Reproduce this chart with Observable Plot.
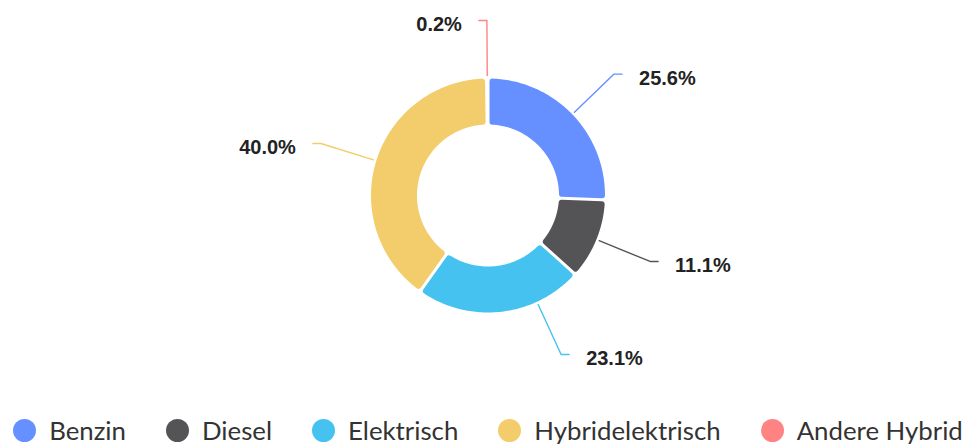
<!DOCTYPE html>
<html><head><meta charset="utf-8">
<script src="https://cdn.jsdelivr.net/npm/d3@7"></script>
<script src="https://cdn.jsdelivr.net/npm/@observablehq/plot@0.6"></script>
<style>
body{margin:0;background:#fff;}
#legend{display:flex;justify-content:center;align-items:center;height:40px;font-family:Lato,"Noto Sans",sans-serif;font-size:25.8px;color:#333;white-space:nowrap;}
.item{display:flex;align-items:center;margin:0 20px;}
.sw{width:23px;height:23px;border-radius:50%;margin-right:13px;flex:none;}
</style></head><body>
<div id="chart"></div><div id="legend"></div>
<script>
// ---- data ----
const categories = ["Benzin", "Diesel", "Elektrisch", "Hybridelektrisch", "Andere Hybrid"];
const shares = [25.6, 11.1, 23.1, 40.0, 0.2];
const labels = ["25.6%", "11.1%", "23.1%", "40.0%", "0.2%"];
const colors = ["#6690FF", "#545456", "#45C2EF", "#F3CD6B", "#FF8383"];

// ---- layout ----
const W = 976, H = 410, cx = 487.5, cy = 195;
const R = 117, Rin = 71, gap = 3, corner = 3;
const lineR0 = 120, lineR1 = 175, hLen = 8, textGap = 17;
const labelAngleOverride = {"Elektrisch": 155.3};

const rad = d => d * Math.PI / 180;
const total = d3.sum(shares);
let acc = 0;
const slices = categories.map((cat, i) => {
  const a0 = acc / total * 2 * Math.PI;
  acc += shares[i];
  const a1 = acc / total * 2 * Math.PI;
  return {cat, a0, a1, label: labels[i]};
});

// slice polygons (inset, then stroked with round joins to give rounded corners)
const ro = R - corner, ri = Rin + corner, dOff = gap / 2 + corner;
const sliceRows = [];
for (const s of slices) {
  const oa0 = s.a0 + Math.asin(dOff / ro), oa1 = s.a1 - Math.asin(dOff / ro);
  const ia0 = s.a0 + Math.asin(dOff / ri), ia1 = s.a1 - Math.asin(dOff / ri);
  if (oa1 <= oa0 || ia1 <= ia0) continue;
  const n = Math.max(2, Math.ceil((oa1 - oa0) / rad(1)));
  for (let k = 0; k <= n; k++) {
    const a = oa0 + (oa1 - oa0) * k / n;
    sliceRows.push({cat: s.cat, x: ro * Math.sin(a), y: ro * Math.cos(a)});
  }
  const m = Math.max(2, Math.ceil((ia1 - ia0) / rad(1)));
  for (let k = 0; k <= m; k++) {
    const a = ia1 - (ia1 - ia0) * k / m;
    sliceRows.push({cat: s.cat, x: ri * Math.sin(a), y: ri * Math.cos(a)});
  }
}

// leader lines and labels
const leaderRows = [], textRows = [];
for (const s of slices) {
  const th = labelAngleOverride[s.cat] != null ? rad(labelAngleOverride[s.cat]) : (s.a0 + s.a1) / 2;
  const sx = Math.sin(th), sy = Math.cos(th);
  const side = sx >= 0 ? 1 : -1;
  const p2 = {x: lineR1 * sx, y: lineR1 * sy};
  leaderRows.push({cat: s.cat, x: lineR0 * sx, y: lineR0 * sy});
  leaderRows.push({cat: s.cat, ...p2});
  leaderRows.push({cat: s.cat, x: p2.x + side * hLen, y: p2.y});
  textRows.push({cat: s.cat, label: s.label, side, x: p2.x + side * hLen, y: p2.y});
}

const textStyle = {fontFamily: "'Liberation Sans', Arial, sans-serif", fontWeight: "bold", fontSize: 20, fill: "#222", dy: 4};

const chart = Plot.plot({
  width: W, height: H, margin: 0,
  x: {domain: [-cx, W - cx], axis: null},
  y: {domain: [cy - H, cy], axis: null},
  color: {domain: categories, range: colors},
  style: {background: "white"},
  marks: [
    Plot.line(sliceRows, {x: "x", y: "y", z: "cat", fill: "cat", stroke: "cat", strokeWidth: 2 * corner, strokeLinejoin: "round", curve: "linear-closed"}),
    Plot.line(leaderRows, {x: "x", y: "y", z: "cat", stroke: "cat", strokeWidth: 1.4}),
    Plot.text(textRows.filter(d => d.side > 0), {x: "x", y: "y", text: "label", textAnchor: "start", dx: textGap, ...textStyle}),
    Plot.text(textRows.filter(d => d.side < 0), {x: "x", y: "y", text: "label", textAnchor: "end", dx: -textGap, ...textStyle})
  ]
});
document.getElementById("chart").appendChild(chart);

const legend = document.getElementById("legend");
categories.forEach((c, i) => {
  const item = document.createElement("div");
  item.className = "item";
  const sw = document.createElement("span");
  sw.className = "sw";
  sw.style.background = colors[i];
  const t = document.createElement("span");
  t.textContent = c;
  item.appendChild(sw); item.appendChild(t);
  legend.appendChild(item);
});
</script>
</body></html>
